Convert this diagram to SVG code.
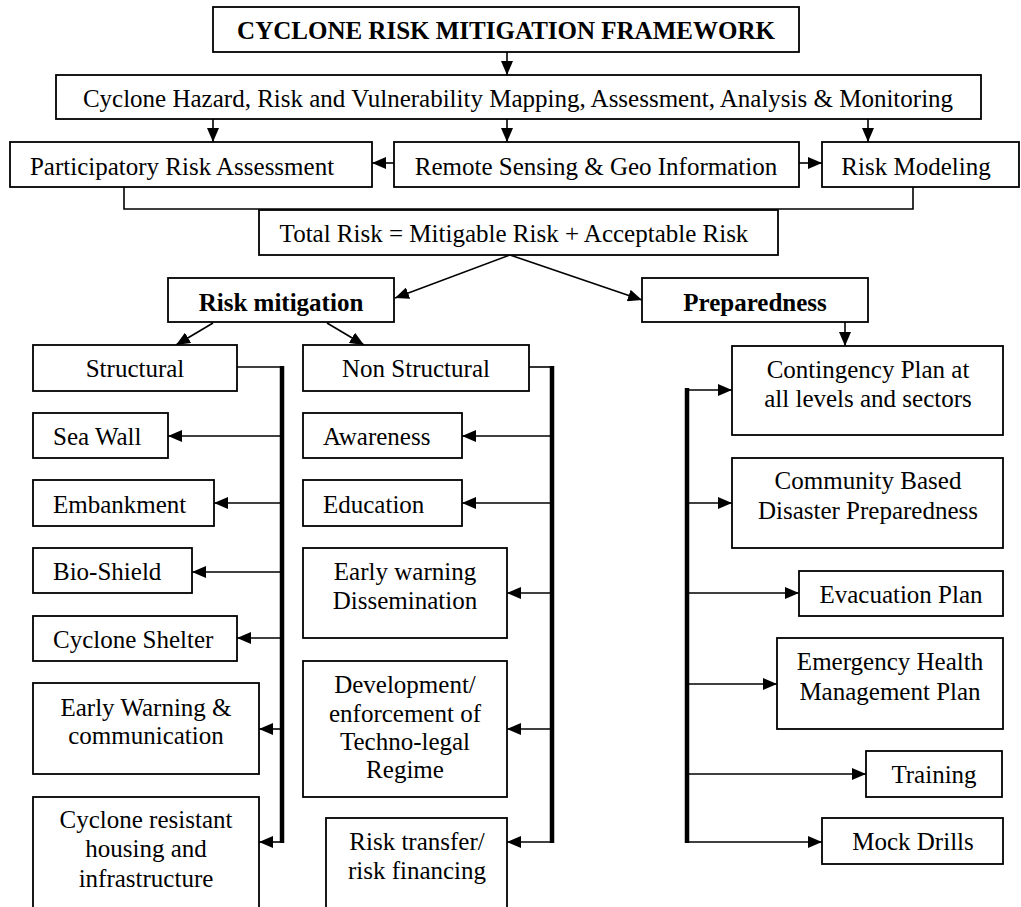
<svg xmlns="http://www.w3.org/2000/svg" width="1021" height="907" viewBox="0 0 1021 907">
<style>
.b{fill:#fff;stroke:#000;stroke-width:1.8}
text{font-family:"Liberation Serif","Times New Roman",serif;font-size:25px;fill:#000;text-anchor:middle}
.bold{font-weight:bold}
.l{text-anchor:start}
.c{fill:none;stroke:#000;stroke-width:1.6}
.t{fill:none;stroke:#000;stroke-width:4.5}
</style>
<defs>
<marker id="ah" markerWidth="14" markerHeight="12" refX="14" refY="6" orient="auto" markerUnits="userSpaceOnUse"><path d="M0,0 L14,6 L0,12 z" fill="#000"/></marker>
</defs>
<rect width="1021" height="907" fill="#fff"/>

<g id="connectors">
<line class="c" x1="507" y1="52" x2="507" y2="75" marker-end="url(#ah)"/>
<line class="c" x1="213" y1="119" x2="213" y2="142" marker-end="url(#ah)"/>
<line class="c" x1="507" y1="119" x2="507" y2="142" marker-end="url(#ah)"/>
<line class="c" x1="868" y1="119" x2="868" y2="142" marker-end="url(#ah)"/>
<line class="c" x1="394" y1="163" x2="372" y2="163" marker-end="url(#ah)"/>
<line class="c" x1="799" y1="163" x2="822" y2="163" marker-end="url(#ah)"/>
<polyline class="c" points="124,187 124,209 913,209 913,187"/>
<line class="c" x1="510" y1="255" x2="395" y2="298" marker-end="url(#ah)"/>
<line class="c" x1="510" y1="255" x2="642" y2="300" marker-end="url(#ah)"/>
<line class="c" x1="213" y1="323" x2="176" y2="345" marker-end="url(#ah)"/>
<line class="c" x1="327" y1="323" x2="364" y2="345" marker-end="url(#ah)"/>
<line class="c" x1="845" y1="322" x2="845" y2="346" marker-end="url(#ah)"/>
<!-- structural -->
<polyline class="c" points="237,367 282,367"/>
<line class="t" x1="282" y1="366" x2="282" y2="843"/>
<line class="c" x1="280" y1="436" x2="168" y2="436" marker-end="url(#ah)"/>
<line class="c" x1="280" y1="503" x2="214" y2="503" marker-end="url(#ah)"/>
<line class="c" x1="280" y1="572" x2="192" y2="572" marker-end="url(#ah)"/>
<line class="c" x1="280" y1="638" x2="237" y2="638" marker-end="url(#ah)"/>
<line class="c" x1="280" y1="729" x2="259" y2="729" marker-end="url(#ah)"/>
<line class="c" x1="283" y1="842" x2="259" y2="842" marker-end="url(#ah)"/>
<!-- non structural -->
<polyline class="c" points="529,367 552,367"/>
<line class="t" x1="552" y1="366" x2="552" y2="843"/>
<line class="c" x1="550" y1="436" x2="462" y2="436" marker-end="url(#ah)"/>
<line class="c" x1="550" y1="503" x2="462" y2="503" marker-end="url(#ah)"/>
<line class="c" x1="550" y1="593" x2="507" y2="593" marker-end="url(#ah)"/>
<line class="c" x1="550" y1="729" x2="507" y2="729" marker-end="url(#ah)"/>
<line class="c" x1="553" y1="842" x2="507" y2="842" marker-end="url(#ah)"/>
<!-- preparedness -->
<line class="t" x1="687" y1="388" x2="687" y2="843"/>
<line class="c" x1="686" y1="390" x2="732" y2="390" marker-end="url(#ah)"/>
<line class="c" x1="689" y1="503" x2="732" y2="503" marker-end="url(#ah)"/>
<line class="c" x1="689" y1="593" x2="799" y2="593" marker-end="url(#ah)"/>
<line class="c" x1="689" y1="684" x2="777" y2="684" marker-end="url(#ah)"/>
<line class="c" x1="689" y1="774" x2="866" y2="774" marker-end="url(#ah)"/>
<line class="c" x1="686" y1="842" x2="822" y2="842" marker-end="url(#ah)"/>
</g>

<g id="title"><rect class="b" x="213" y="7" width="586" height="45"/><text class="bold" x="506" y="39">CYCLONE RISK MITIGATION FRAMEWORK</text></g>
<g id="mapping"><rect class="b" x="56" y="75" width="925" height="44"/><text x="518" y="107">Cyclone Hazard, Risk and Vulnerability Mapping, Assessment, Analysis &amp; Monitoring</text></g>
<g id="participatory"><rect class="b" x="10" y="142" width="362" height="45"/><text x="182" y="175">Participatory Risk Assessment</text></g>
<g id="remote"><rect class="b" x="394" y="142" width="405" height="45"/><text x="596" y="175">Remote Sensing &amp; Geo Information</text></g>
<g id="modeling"><rect class="b" x="822" y="142" width="197" height="45"/><text x="916" y="175">Risk Modeling</text></g>
<g id="totalrisk"><rect class="b" x="259" y="210" width="519" height="45"/><text x="514" y="242">Total Risk = Mitigable Risk + Acceptable Risk</text></g>
<g id="riskmitigation"><rect class="b" x="168" y="278" width="226" height="44"/><text class="bold" x="281" y="311">Risk mitigation</text></g>
<g id="preparedness"><rect class="b" x="642" y="278" width="226" height="44"/><text class="bold" x="755" y="311">Preparedness</text></g>

<g id="structural"><rect class="b" x="33" y="345" width="204" height="46"/><text x="135" y="377">Structural</text></g>
<g id="seawall"><rect class="b" x="33" y="413" width="135" height="45"/><text class="l" x="53" y="445">Sea Wall</text></g>
<g id="embankment"><rect class="b" x="33" y="480" width="181" height="46"/><text class="l" x="53" y="513">Embankment</text></g>
<g id="bioshield"><rect class="b" x="33" y="548" width="159" height="45"/><text class="l" x="53" y="580">Bio-Shield</text></g>
<g id="shelter"><rect class="b" x="33" y="616" width="204" height="45"/><text class="l" x="53" y="648">Cyclone Shelter</text></g>
<g id="earlywarning"><rect class="b" x="33" y="683" width="226" height="91"/><text x="146" y="716">Early Warning &amp;</text><text x="146" y="744">communication</text></g>
<g id="housing"><rect class="b" x="33" y="797" width="226" height="120"/><text x="146" y="828">Cyclone resistant</text><text x="146" y="857">housing and</text><text x="146" y="887">infrastructure</text></g>

<g id="nonstructural"><rect class="b" x="303" y="345" width="226" height="46"/><text x="416" y="377">Non Structural</text></g>
<g id="awareness"><rect class="b" x="303" y="413" width="159" height="45"/><text class="l" x="323" y="445">Awareness</text></g>
<g id="education"><rect class="b" x="303" y="480" width="159" height="46"/><text class="l" x="323" y="513">Education</text></g>
<g id="dissemination"><rect class="b" x="303" y="548" width="204" height="90"/><text x="405" y="580">Early warning</text><text x="405" y="609">Dissemination</text></g>
<g id="technolegal"><rect class="b" x="303" y="661" width="204" height="136"/><text x="405" y="693">Development/</text><text x="405" y="722">enforcement of</text><text x="405" y="750">Techno-legal</text><text x="405" y="778">Regime</text></g>
<g id="risktransfer"><rect class="b" x="326" y="818" width="181" height="100"/><text x="417" y="850">Risk transfer/</text><text x="417" y="879">risk financing</text></g>

<g id="contingency"><rect class="b" x="732" y="346" width="271" height="89"/><text x="868" y="378">Contingency Plan at</text><text x="868" y="407">all levels and sectors</text></g>
<g id="community"><rect class="b" x="732" y="458" width="271" height="90"/><text x="868" y="489">Community Based</text><text x="868" y="519">Disaster Preparedness</text></g>
<g id="evacuation"><rect class="b" x="799" y="571" width="204" height="45"/><text x="901" y="603">Evacuation Plan</text></g>
<g id="health"><rect class="b" x="777" y="638" width="226" height="91"/><text x="890" y="670">Emergency Health</text><text x="890" y="700">Management Plan</text></g>
<g id="training"><rect class="b" x="866" y="751" width="136" height="46"/><text x="934" y="783">Training</text></g>
<g id="mockdrills"><rect class="b" x="822" y="818" width="181" height="46"/><text x="913" y="850">Mock Drills</text></g>
</svg>
